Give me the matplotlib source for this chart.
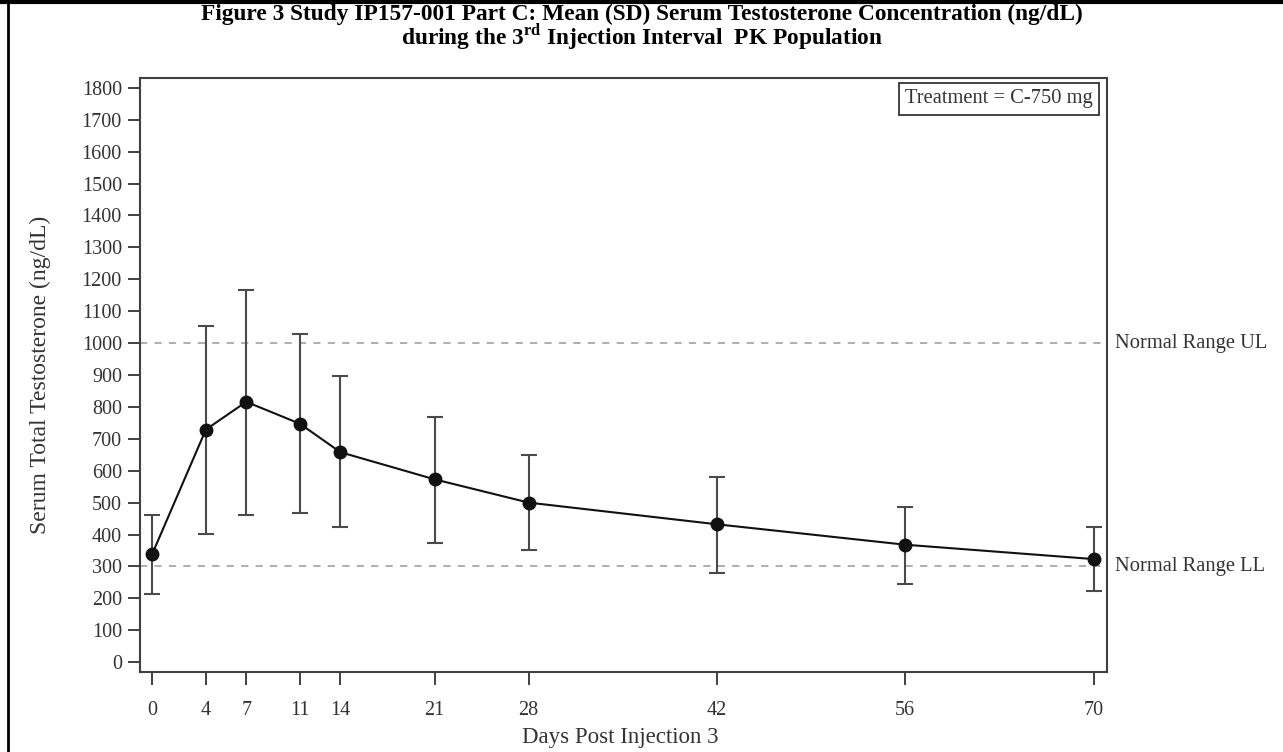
import matplotlib
matplotlib.use("Agg")
import matplotlib.pyplot as plt
from matplotlib.lines import Line2D

plt.rcParams['font.family'] = ['Liberation Serif', 'DejaVu Serif']
plt.rcParams['mathtext.fontset'] = 'custom'
plt.rcParams['mathtext.rm'] = 'Liberation Serif'
plt.rcParams['mathtext.bf'] = 'Liberation Serif:bold'

# mean and SD bar ends
days = [0, 4, 7, 11, 14, 21, 28, 42, 56, 70]
mean_t = [338, 729, 816, 747, 658, 573, 500, 432, 368, 323]
upper_t = [461, 1054, 1168, 1030, 897, 767, 649, 580, 486, 424]
lower_t = [215, 403, 462, 468, 423, 373, 351, 280, 245, 224]

y_ticks = list(range(0, 1801, 100))
normal_ul = 1000
normal_ll = 300

W, H = 1283, 752
fig = plt.figure(figsize=(W / 100, H / 100), dpi=100)
ax = fig.add_axes([140 / W, 1 - 672 / H, (1107 - 140) / W, (672 - 78) / H])

err_lo = [m - l for m, l in zip(mean_t, lower_t)]
err_hi = [u - m for m, u in zip(mean_t, upper_t)]

ax.axhline(normal_ul, color='#a8a8a8', lw=1.3, ls=(0, (4, 4)), zorder=1)
ax.axhline(normal_ll, color='#a8a8a8', lw=1.3, ls=(0, (4, 4)), zorder=1)

ax.errorbar(days, mean_t, yerr=[err_lo, err_hi], fmt='none', ecolor='#4a4a4a',
            elinewidth=1.5, capsize=5.5, capthick=1.5, zorder=2)
ax.plot(days, mean_t, color='#111111', lw=1.5, marker='o', ms=9,
        mfc='#111111', mec='#111111', zorder=3)

ax.set_xlim(-0.9, 71)
ax.set_ylim(-31, 1831)
ax.set_xticks(days)
ax.set_yticks(y_ticks)
ax.tick_params(axis='both', labelsize=14.5, colors='#333333', length=9, width=1.3)
ax.tick_params(axis='y', pad=4)
ax.tick_params(axis='x', pad=12)
for s in ax.spines.values():
    s.set_color('#404040')
    s.set_linewidth(1.5)

fig.text(620 / W, 1 - 738 / H, 'Days Post Injection 3', ha='center', va='center',
         fontsize=16.5, color='#333333')
fig.text(40 / W, 1 - 375 / H, 'Serum Total Testosterone (ng/dL)', ha='center', va='center',
         rotation=90, fontsize=17, color='#333333')

ax.text(1.008, normal_ul, 'Normal Range UL', transform=ax.get_yaxis_transform(),
        va='center', ha='left', fontsize=14.8, color='#333333')
ax.text(1.008, normal_ll, 'Normal Range LL', transform=ax.get_yaxis_transform(),
        va='center', ha='left', fontsize=14.8, color='#333333')

ax.text(1093 / W, 1 - 99 / H, 'Treatment = C-750 mg', transform=fig.transFigure, ha='right', va='center',
        fontsize=14.8, color='#333333',
        bbox=dict(boxstyle='square,pad=0.3', fc='white', ec='#333333', lw=1.3))

fig.text(0.5, 1 - 14 / H, 'Figure 3 Study IP157-001 Part C: Mean (SD) Serum Testosterone Concentration (ng/dL)',
         ha='center', va='center', fontsize=16.8, fontweight='bold')
fig.text(0.5, 1 - 37 / H, r'during the 3$^{\mathbf{rd}}$ Injection Interval  PK Population',
         ha='center', va='center', fontsize=16.8, fontweight='bold')

# outer frame (top and left)
fig.add_artist(Line2D([0, 1], [1 - 1.5 / H, 1 - 1.5 / H], transform=fig.transFigure, color='black', lw=3))
fig.add_artist(Line2D([8 / W, 8 / W], [0, 1], transform=fig.transFigure, color='black', lw=2))

fig.savefig('out.png', dpi=100)
